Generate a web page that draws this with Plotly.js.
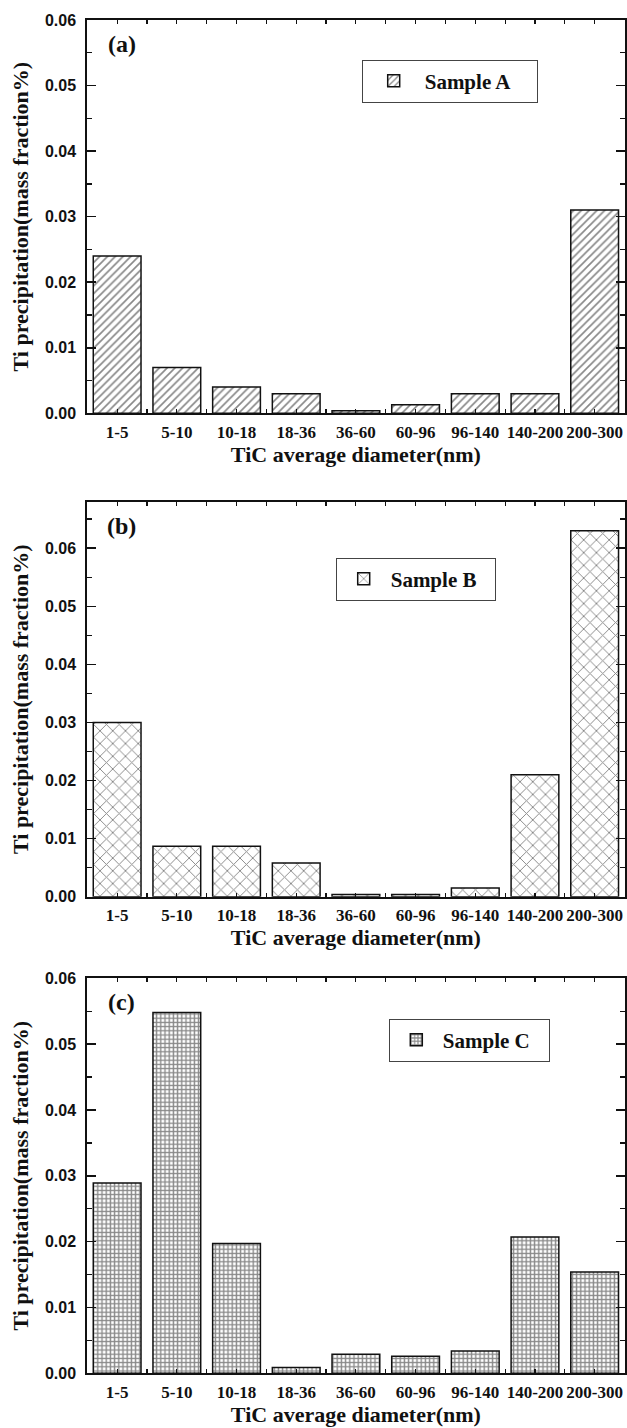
<!DOCTYPE html>
<html>
<head>
<meta charset="utf-8">
<script src="https://cdn.plot.ly/plotly-3.0.1.min.js"></script>
<style>html,body{margin:0;padding:0;background:#fff;}#chart{width:627px;height:1428px;}</style>
</head>
<body>
<div id="chart"></div>
<script>
// ---- data ----
const categories = ['1-5', '5-10', '10-18', '18-36', '36-60', '60-96', '96-140', '140-200', '200-300'];
const sampleA = [0.024, 0.007, 0.004, 0.003, 0.0004, 0.0013, 0.003, 0.003, 0.031];
const sampleB = [0.030, 0.0087, 0.0087, 0.0058, 0.0004, 0.0004, 0.0015, 0.021, 0.063];
const sampleC = [0.0289, 0.0548, 0.0197, 0.0009, 0.0029, 0.0026, 0.0034, 0.0207, 0.0154];
const seriesNames = ['Sample A', 'Sample B', 'Sample C'];
const panelLabels = ['(a)', '(b)', '(c)'];
const yMax = [0.06, 0.068, 0.06];
const xTitle = 'TiC average diameter(nm)';
const yTitle = 'Ti precipitation(mass fraction%)';

// ---- layout helpers (pixel geometry of the page) ----
const W = 627, H = 1428;
const plotLeft = 87.3, plotRight = 624.5;
const panels = [
  {top: 20, bottom: 413.3, legX: 361.7, legY: 59.5, itemW: 52, entryW: 107},
  {top: 501.7, bottom: 896.7, legX: 335.7, legY: 557.5, itemW: 44, entryW: 99},
  {top: 978.3, bottom: 1373.3, legX: 388.8, legY: 1018.5, itemW: 43, entryW: 101}
];
const patterns = [
  {shape: '/', size: 5.5, solidity: 0.3},
  {shape: 'x', size: 9, solidity: 0.2},
  {shape: '+', size: 4.2, solidity: 0.55}
];
const ink = '#111111';
const serif = 'Liberation Serif, Times New Roman, serif';
const sans = 'Liberation Sans, Arial, sans-serif';

const xIdx = categories.map((c, i) => i);
const allSeries = [sampleA, sampleB, sampleC];

const data = allSeries.map((vals, k) => ({
  type: 'bar',
  x: xIdx,
  y: vals,
  name: seriesNames[k],
  xaxis: k === 0 ? 'x' : 'x' + (k + 1),
  yaxis: k === 0 ? 'y' : 'y' + (k + 1),
  legend: k === 0 ? 'legend' : 'legend' + (k + 1),
  width: 0.8,
  marker: {
    color: '#ffffff',
    line: {color: ink, width: 1.5},
    pattern: Object.assign({fgcolor: ink, bgcolor: '#ffffff', fillmode: 'overlay'}, patterns[k])
  },
  hoverinfo: 'x+y'
}));

const layout = {
  width: W, height: H,
  margin: {l: 0, r: 0, t: 0, b: 0},
  paper_bgcolor: '#ffffff',
  plot_bgcolor: '#ffffff',
  showlegend: true,
  annotations: []
};

panels.forEach((p, k) => {
  const xa = k === 0 ? 'xaxis' : 'xaxis' + (k + 1);
  const ya = k === 0 ? 'yaxis' : 'yaxis' + (k + 1);
  const yRef = k === 0 ? 'y' : 'y' + (k + 1);
  const xRef = k === 0 ? 'x' : 'x' + (k + 1);
  layout[xa] = {
    domain: [plotLeft / W, plotRight / W],
    anchor: yRef,
    type: 'linear',
    range: [-0.5, categories.length - 0.5],
    tickmode: 'array',
    tickvals: xIdx,
    ticktext: categories,
    ticks: 'inside', ticklen: 4, tickwidth: 1.2, tickcolor: ink,
    minor: {dtick: 0.5, tick0: 0.5, ticks: 'inside', ticklen: 4, tickwidth: 1.2, tickcolor: ink},
    showline: true, linewidth: 2, linecolor: ink, mirror: 'ticks',
    showgrid: false, zeroline: false,
    tickfont: {family: serif, size: 17, color: ink, weight: 700},
    ticklabelstandoff: 2,
    title: {text: xTitle, font: {family: serif, size: 22, color: ink, weight: 700}, standoff: 5},
    fixedrange: true
  };
  layout[ya] = {
    domain: [(H - p.bottom) / H, (H - p.top) / H],
    anchor: xRef,
    range: [0, yMax[k]],
    dtick: 0.01, tick0: 0,
    tickformat: '.2f',
    ticks: 'inside', ticklen: 9, tickwidth: 1.5, tickcolor: ink,
    minor: {dtick: 0.005, ticks: 'inside', ticklen: 5, tickwidth: 1.3, tickcolor: ink},
    showline: true, linewidth: 2, linecolor: ink, mirror: 'ticks',
    showgrid: false, zeroline: false,
    tickfont: {family: sans, size: 16, color: ink, weight: 700},
    ticklabelstandoff: 6,
    title: {text: yTitle, font: {family: serif, size: 22, color: ink, weight: 700}, standoff: 10},
    fixedrange: true
  };
  const lg = k === 0 ? 'legend' : 'legend' + (k + 1);
  layout[lg] = {
    x: p.legX / W, y: (H - p.legY) / H,
    xanchor: 'left', yanchor: 'top',
    xref: 'paper', yref: 'paper',
    orientation: 'h',
    entrywidth: p.entryW, entrywidthmode: 'pixels',
    bgcolor: '#ffffff', bordercolor: '#444', borderwidth: 1,
    font: {family: serif, size: 21, color: ink, weight: 700},
    itemwidth: p.itemW
  };
  layout.annotations.push({
    text: panelLabels[k],
    xref: xRef + ' domain', yref: yRef + ' domain',
    x: (121.7 - plotLeft) / (plotRight - plotLeft),
    y: 1 - 24 / (p.bottom - p.top),
    xanchor: 'center', yanchor: 'middle',
    showarrow: false,
    font: {family: serif, size: 24, color: ink, weight: 700}
  });
});

Plotly.newPlot('chart', data, layout, {staticPlot: true, displayModeBar: false});
</script>
</body>
</html>
